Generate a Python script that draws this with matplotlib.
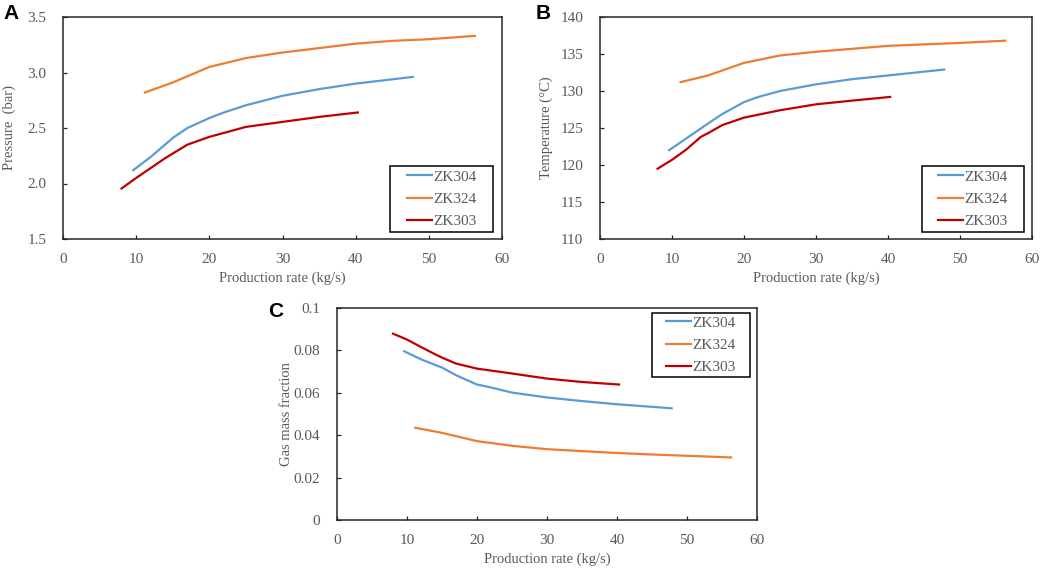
import numpy as np
import matplotlib.pyplot as plt
from matplotlib.patches import Rectangle

# data
wells = ['ZK304', 'ZK324', 'ZK303']
colors = ['#5B9BD5', '#ED7D31', '#C00000']

q_304 = [9.6, 12, 15, 17, 20, 22, 25, 30, 35, 40, 47.8]
q_324 = [11.2, 15, 20, 25, 30, 35, 40, 45, 50, 56.3]
q_303 = [8.0, 10, 12, 14, 15, 17, 20, 25, 30, 35, 40.3]

p_304 = [2.12, 2.24, 2.41, 2.50, 2.59, 2.64, 2.705, 2.79, 2.85, 2.90, 2.96]
p_324 = [2.82, 2.91, 3.05, 3.13, 3.18, 3.22, 3.26, 3.285, 3.30, 3.33]
p_303 = [1.955, 2.05, 2.14, 2.23, 2.27, 2.35, 2.42, 2.51, 2.555, 2.60, 2.64]

t_304 = [122.0, 123.6, 125.6, 126.9, 128.5, 129.2, 130.0, 130.9, 131.6, 132.1, 132.9]
t_324 = [131.2, 132.1, 133.8, 134.8, 135.3, 135.7, 136.1, 136.3, 136.5, 136.8]
t_303 = [119.5, 120.7, 122.1, 123.8, 124.3, 125.4, 126.4, 127.4, 128.2, 128.7, 129.2]

g_304 = [0.0796, 0.0758, 0.0719, 0.0683, 0.0639, 0.0625, 0.0601, 0.0578, 0.0561, 0.0546, 0.0527]
g_324 = [0.0435, 0.0411, 0.0372, 0.0350, 0.0334, 0.0325, 0.0316, 0.0309, 0.0303, 0.0295]
g_303 = [0.0879, 0.0851, 0.0816, 0.0782, 0.0766, 0.0738, 0.0714, 0.0691, 0.0667, 0.0651, 0.0639]

xs = [q_304, q_324, q_303]

plt.rcParams['font.family'] = 'Liberation Serif'
gris = '#595959'

W, H = 1052, 568
fig = plt.figure(figsize=(W / 100, H / 100), dpi=100)


def panel(px, ys, ylim, yticks, ylabel, ylab_x, letter, lpx, letter_xy, fmt):
    l, r, t, b = px
    ax = fig.add_axes([l / W, (H - b) / H, (r - l) / W, (b - t) / H])
    for x, y, c, n in zip(xs, ys, colors, wells):
        ax.plot(x, y, color=c, lw=1.6, label=n)
    ax.set_xlim(0, 60)
    ax.set_xticks(np.arange(0, 61, 10))
    ax.set_ylim(*ylim)
    ax.set_yticks(yticks)
    ax.set_yticklabels([fmt.format(v) for v in yticks])
    ax.tick_params(direction='in', length=3, color='#262626', labelcolor=gris,
                   labelsize=11, width=0.9)
    ax.tick_params(axis='y', pad=12)
    ax.tick_params(axis='x', pad=10)
    for s in ax.spines.values():
        s.set_color('#262626')
        s.set_linewidth(1.1)
    ax.set_xlabel('Production rate (kg/s)', color=gris, fontsize=10.5)
    ax.set_ylabel(ylabel, color=gris, fontsize=10.5)
    ax.xaxis.set_label_coords(0.5, -33 / (b - t))
    # ylabel anchor is its right edge once rotated
    ax.yaxis.set_label_coords((ylab_x - l) / (r - l), 0.5)

    # legend box drawn by hand, entries centred inside
    ll, lr, lt, lb = lpx
    bx = ((ll - l) / (r - l), (b - lb) / (b - t))
    bw, bh = (lr - ll) / (r - l), (lb - lt) / (b - t)
    ax.add_patch(Rectangle(bx, bw, bh, transform=ax.transAxes, fill=False,
                           ec='black', lw=1.1, zorder=5))
    ax.legend(loc='center', bbox_to_anchor=(bx[0] + bw / 2, bx[1] + bh / 2),
              frameon=False, fontsize=11, labelcolor=gris, handlelength=1.65,
              handletextpad=0.1, labelspacing=0.55, borderpad=0,
              borderaxespad=0)
    fig.text(letter_xy[0] / W, 1 - letter_xy[1] / H, letter, fontsize=15,
             fontweight='bold', family='Liberation Sans', va='top', ha='left')
    return ax


axA = panel((63, 502, 17, 239), [p_304, p_324, p_303], (1.5, 3.5),
            np.arange(1.5, 3.51, 0.5), 'Pressure  (bar)', 16, 'A',
            (390, 493, 166, 232), (3, 4), '{:.1f}')
axB = panel((600, 1032, 17, 239), [t_304, t_324, t_303], (110, 140),
            np.arange(110, 141, 5), 'Temperature (\u00b0C)', 553, 'B',
            (922, 1024, 166, 232), (536, 4), '{:.0f}')
axC = panel((337, 757, 308, 520), [g_304, g_324, g_303], (0, 0.1),
            [0, 0.02, 0.04, 0.06, 0.08, 0.1], 'Gas mass fraction', 293, 'C',
            (652, 750, 313, 377), (268, 302), '{:g}')

fig.savefig('out.png', dpi=100)
